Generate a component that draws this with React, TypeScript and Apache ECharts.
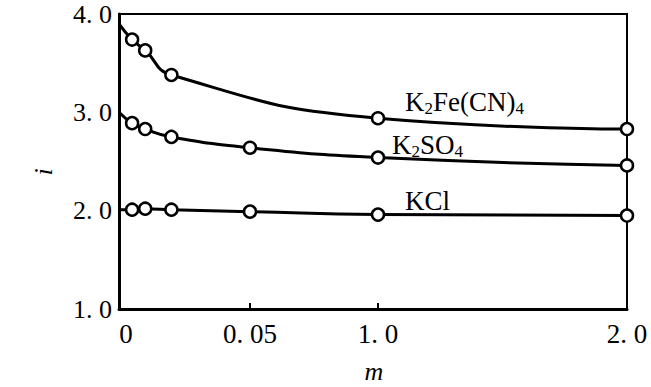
import React, { useEffect, useRef } from "react";
import * as echarts from "echarts";

// ---- data ----
const mTicks = [0, 0.05, 1.0, 2.0];
const mTickLabels = ["0", "0. 05", "1. 0", "2. 0"];
const yTicks = [1, 2, 3, 4];
const yTickLabels = ["1. 0", "2. 0", "3. 0", "4. 0"];

const mFeCN = [0, 0.005, 0.01, 0.02, 1.0, 2.0];
const iFeCN = [3.9, 3.74, 3.63, 3.38, 2.94, 2.83];

const mSO4 = [0, 0.005, 0.01, 0.02, 0.05, 1.0, 2.0];
const iSO4 = [3.0, 2.89, 2.83, 2.75, 2.64, 2.54, 2.46];

const mKCl = [0, 0.005, 0.01, 0.02, 0.05, 1.0, 2.0];
const iKCl = [2.01, 2.01, 2.02, 2.01, 1.99, 1.96, 1.95];

// broken (piecewise-linear) m scale: axis units per segment
const AXIS_SPAN = [0, 131, 259, 508];

function toU(m: number): number {
  for (let i = 0; i < mTicks.length - 1; i++) {
    if (m <= mTicks[i + 1] || i === mTicks.length - 2) {
      const f = (m - mTicks[i]) / (mTicks[i + 1] - mTicks[i]);
      return AXIS_SPAN[i] + f * (AXIS_SPAN[i + 1] - AXIS_SPAN[i]);
    }
  }
  return 0;
}

const SERIF = "'Liberation Serif', 'DejaVu Serif', serif";

function buildSeries(name: string, ms: number[], vs: number[]) {
  return {
    name,
    type: "line",
    smooth: 0.5,
    symbol: "circle",
    symbolSize: 12,
    lineStyle: { color: "#000", width: 3 },
    itemStyle: { color: "#fff", borderColor: "#000", borderWidth: 2.5 },
    data: ms.map((m, k) =>
      m === 0
        ? { value: [toU(m), vs[k]], symbol: "none" }
        : { value: [toU(m), vs[k]] }
    ),
  };
}

export default function App() {
  const ref = useRef<HTMLDivElement>(null);
  useEffect(() => {
    if (!ref.current) return;
    const chart = echarts.init(ref.current, null, { renderer: "svg" });
    const sub = { fontSize: 17, fontFamily: SERIF, fill: "#000", verticalAlign: "bottom", padding: [12, 0, 0, 0] };
    const norm = { fontSize: 27, fontFamily: SERIF, fill: "#000" };
    chart.setOption({
      animation: false,
      backgroundColor: "#fff",
      grid: {
        left: 119,
        top: 14,
        right: 24,
        bottom: 78,
        show: true,
        borderColor: "#000",
        borderWidth: 2,
        containLabel: false,
        outerBoundsMode: "none",
      },
      xAxis: {
        type: "value",
        min: 0,
        max: AXIS_SPAN[AXIS_SPAN.length - 1],
        axisLine: { show: true, lineStyle: { color: "#000", width: 3 } },
        axisTick: {
          show: true,
          inside: true,
          length: 6,
          lineStyle: { color: "#000", width: 2 },
          customValues: [AXIS_SPAN[1], AXIS_SPAN[2]],
        },
        splitLine: { show: false },
        axisLabel: {
          customValues: AXIS_SPAN,
          margin: 11,
          color: "#000",
          fontSize: 27,
          fontFamily: SERIF,
          formatter: (v: number) => {
            const idx = AXIS_SPAN.indexOf(v);
            if (idx === 0) return "{z|" + mTickLabels[0] + "}";
            return idx >= 0 ? mTickLabels[idx] : "";
          },
          rich: { z: { fontSize: 27, fontFamily: SERIF, color: "#000", padding: [0, 0, 0, 14] } },
        },
      },
      yAxis: {
        type: "value",
        min: 1,
        max: 4,
        interval: 1,
        axisLine: { show: true, lineStyle: { color: "#000", width: 3 } },
        axisTick: { show: false },
        splitLine: { show: false },
        axisLabel: {
          margin: 7,
          color: "#000",
          fontSize: 26,
          fontFamily: SERIF,
          formatter: (v: number) => {
            const idx = yTicks.indexOf(v);
            return idx >= 0 ? yTickLabels[idx] : "";
          },
        },
      },
      series: [
        buildSeries("K2Fe(CN)4", mFeCN, iFeCN),
        buildSeries("K2SO4", mSO4, iSO4),
        buildSeries("KCl", mKCl, iKCl),
      ],
      graphic: [
        {
          type: "text",
          x: 405,
          y: 102,
          style: {
            text: "{n|K}{s|2}{n|Fe(CN)}{s|4}",
            rich: { n: norm, s: sub },
            textVerticalAlign: "middle",
          },
        },
        {
          type: "text",
          x: 392,
          y: 145,
          style: {
            text: "{n|K}{s|2}{n|SO}{s|4}",
            rich: { n: norm, s: sub },
            textVerticalAlign: "middle",
          },
        },
        {
          type: "text",
          x: 405,
          y: 201,
          style: { text: "KCl", fontSize: 27, fontFamily: SERIF, fill: "#000", textVerticalAlign: "middle" },
        },
        {
          type: "text",
          x: 374,
          y: 371,
          style: {
            text: "m",
            fontSize: 26,
            fontStyle: "italic",
            fontFamily: SERIF,
            fill: "#000",
            textAlign: "center",
            textVerticalAlign: "middle",
          },
        },
        {
          type: "text",
          x: 43,
          y: 172,
          rotation: Math.PI / 2,
          style: {
            text: "i",
            fontSize: 26,
            fontStyle: "italic",
            fontFamily: SERIF,
            fill: "#000",
            textAlign: "center",
            textVerticalAlign: "middle",
          },
        },
      ],
    });
    return () => chart.dispose();
  }, []);
  return (
    <div
      ref={ref}
      style={{ position: "fixed", left: 0, top: 0, width: 651, height: 387, background: "#fff" }}
    />
  );
}
